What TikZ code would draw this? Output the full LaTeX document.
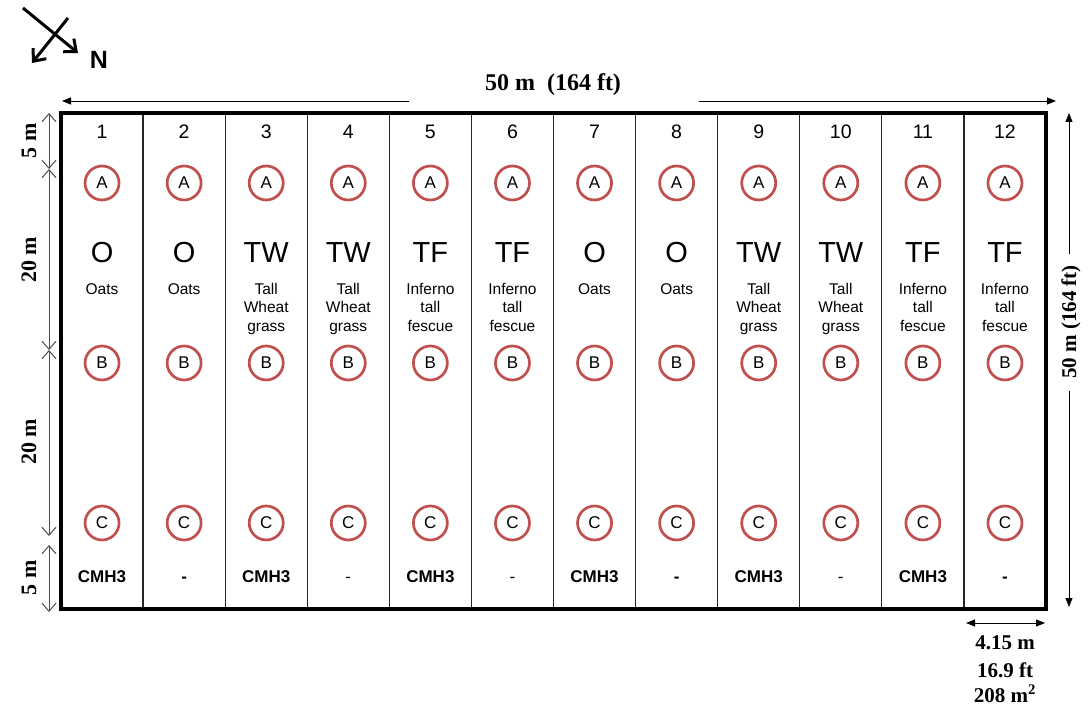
\documentclass[tikz,border=0pt]{standalone}
\usepackage{fontspec}
\setmainfont{Liberation Sans}
\newfontfamily\tnr{Liberation Serif}
\usetikzlibrary{arrows.meta}
\definecolor{circred}{HTML}{C0504D}
\begin{document}
\begin{tikzpicture}[x=1pt,y=-1pt,
  plotframe/.style={draw=black,line width=4pt},
  divider/.style={draw=black!85,line width=1.2pt},
  sample/.style={circle,draw=circred,line width=2.7pt,minimum size=34pt,inner sep=0pt,font=\fontsize{17}{17}\selectfont},
  numlbl/.style={anchor=base,inner sep=0pt,font=\fontsize{19.5}{19.5}\selectfont},
  biglbl/.style={anchor=base,inner sep=0pt,font=\fontsize{29}{29}\selectfont},
  desclbl/.style={anchor=north,inner sep=0pt,align=center,font=\fontsize{15.5}{18.5}\selectfont},
  botlbl/.style={anchor=base,inner sep=0pt,font=\fontsize{17}{17}\selectfont},
  dimtext/.style={inner sep=0pt,font=\tnr\bfseries\fontsize{22}{22}\selectfont},
  dimopen/.style={draw=black!70,line width=1pt,{Straight Barb[length=8pt,width=14pt]}-{Straight Barb[length=8pt,width=14pt]}},
  dimfill/.style={draw=black,line width=0.9pt},
  filltip/.style={-{Triangle[length=9pt,width=7pt]}},
  compass/.style={draw=black,line width=3pt,-{Straight Barb[length=10pt,width=17pt]}}
]
\useasboundingbox (0,0) rectangle (1091,708);

% compass
\coordinate (c1) at (23,8);
\coordinate (c2) at (78,53);
\coordinate (c3) at (68,18);
\coordinate (c4) at (32,63);
\draw[compass] (c1) -- (c2);
\draw[compass] (c3) -- (c4);
\node[inner sep=0pt,font=\bfseries\fontsize{25}{25}\selectfont] (north) at (99,60) {N};

% top dimension
\coordinate (t0) at (62,101);
\coordinate (t1) at (409,101);
\coordinate (t2) at (699,101);
\coordinate (t3) at (1056,101);
\draw[dimfill,filltip] (t1) -- (t0);
\draw[dimfill,filltip] (t2) -- (t3);
\node[dimtext,anchor=base,font=\tnr\bfseries\fontsize{24}{24}\selectfont] (toplbl) at (553,91) {50 m\ \ (164 ft)};

% dividers
\foreach \k in {1,...,11}{
  \draw[divider] ({61+\k*985/12},113) -- ({61+\k*985/12},609);
}
\draw[plotframe] (61,113) rectangle (1046,609);

% columns
\foreach \i/\big/\desc/\bot in {
 1/O/Oats/{\bfseries CMH3},
 2/O/Oats/{\bfseries -},
 3/TW/{Tall\\Wheat\\grass}/{\bfseries CMH3},
 4/TW/{Tall\\Wheat\\grass}/-,
 5/TF/{Inferno\\tall\\fescue}/{\bfseries CMH3},
 6/TF/{Inferno\\tall\\fescue}/-,
 7/O/Oats/{\bfseries CMH3},
 8/O/Oats/{\bfseries -},
 9/TW/{Tall\\Wheat\\grass}/{\bfseries CMH3},
 10/TW/{Tall\\Wheat\\grass}/-,
 11/TF/{Inferno\\tall\\fescue}/{\bfseries CMH3},
 12/TF/{Inferno\\tall\\fescue}/{\bfseries -}}{
  \pgfmathsetmacro\cx{61+(\i-0.5)*985/12}
  \node[numlbl] (num\i) at (\cx,139) {\i};
  \node[sample] (A\i) at (\cx,183) {A};
  \node[biglbl] (big\i) at (\cx,263) {\big};
  \node[desclbl] (desc\i) at (\cx,283) {\desc};
  \node[sample] (B\i) at (\cx,363) {B};
  \node[sample] (C\i) at (\cx,523) {C};
  \node[botlbl] (bot\i) at (\cx,582) {\bot};
}

% left dimensions
\coordinate (l0) at (49,113);
\coordinate (l1) at (49,169);
\coordinate (l2) at (49,350);
\coordinate (l3) at (49,536);
\coordinate (l4) at (49,545);
\coordinate (l5) at (49,612);
\draw[dimopen] (l0) -- (l1);
\draw[dimopen] (l1) -- (l2);
\draw[dimopen] (l2) -- (l3);
\draw[dimopen] (l4) -- (l5);
\node[dimtext,rotate=90] (ld1) at (29,141) {5 m};
\node[dimtext,rotate=90] (ld2) at (29,260) {20 m};
\node[dimtext,rotate=90] (ld3) at (29,442) {20 m};
\node[dimtext,rotate=90] (ld4) at (29,578) {5 m};

% right dimension
\coordinate (r0) at (1069,113);
\coordinate (r1) at (1069,254);
\coordinate (r2) at (1069,391);
\coordinate (r3) at (1069,607);
\draw[dimfill,filltip] (r1) -- (r0);
\draw[dimfill,filltip] (r2) -- (r3);
\node[dimtext,rotate=90,font=\tnr\bfseries\fontsize{21}{21}\selectfont] (rd) at (1071,322) {50 m (164 ft)};

% bottom-right dimension
\coordinate (b0) at (966,623);
\coordinate (b1) at (1045,623);
\draw[dimfill,{Triangle[length=9pt,width=7pt]}-{Triangle[length=9pt,width=7pt]}] (b0) -- (b1);
\node[dimtext,anchor=base,font=\tnr\bfseries\fontsize{21}{21}\selectfont] (w1) at (1005,649) {4.15 m};
\node[dimtext,anchor=base,font=\tnr\bfseries\fontsize{21}{21}\selectfont] (w2) at (1005,677) {16.9 ft};
\node[dimtext,anchor=base,font=\tnr\bfseries\fontsize{21}{21}\selectfont] (w3) at (1005,702) {208 m\textsuperscript{2}};
\end{tikzpicture}
\end{document}
